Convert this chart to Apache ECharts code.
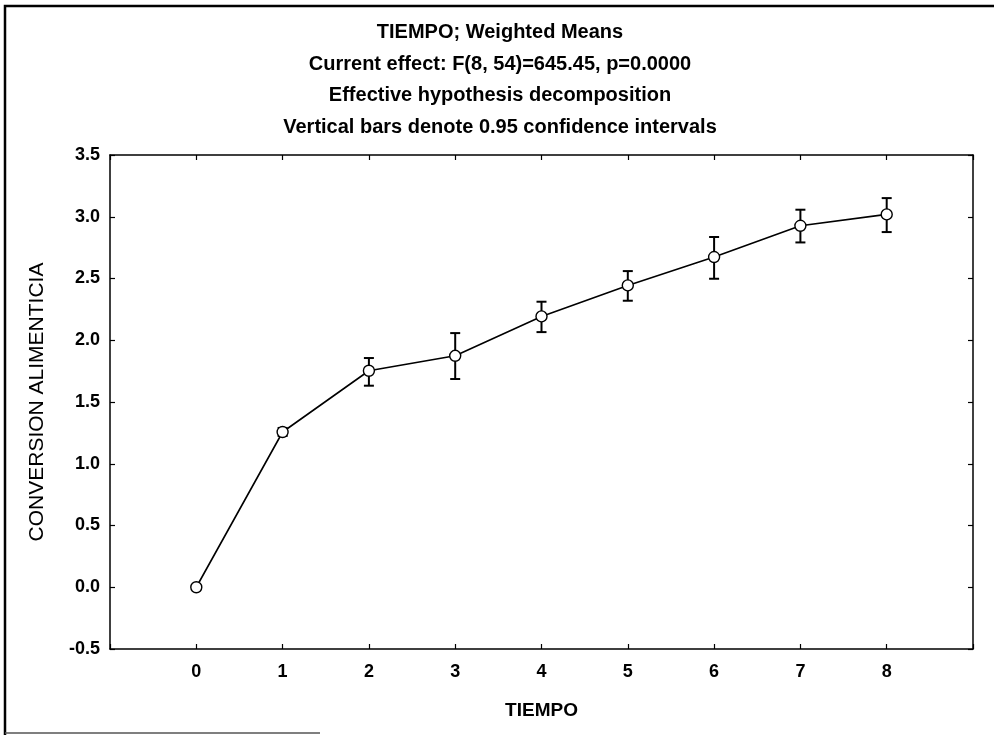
<!DOCTYPE html>
<html>
<head>
<meta charset="utf-8">
<script src="https://cdn.jsdelivr.net/npm/echarts@6/dist/echarts.min.js"></script>
<style>
html,body{margin:0;padding:0;background:#fff;}
#chart{width:994px;height:735px;}
</style>
</head>
<body>
<div id="chart"></div>
<script>
// Data
const tiempo = [0, 1, 2, 3, 4, 5, 6, 7, 8];
const medias = [0.00, 1.257, 1.753, 1.874, 2.193, 2.444, 2.674, 2.927, 3.019];
const icInf  = [0.00, 1.225, 1.632, 1.686, 2.066, 2.320, 2.498, 2.792, 2.876];
const icSup  = [0.00, 1.290, 1.856, 2.058, 2.312, 2.560, 2.836, 3.057, 3.151];
const yTicks = [-0.5, 0.0, 0.5, 1.0, 1.5, 2.0, 2.5, 3.0, 3.5];
const titleLines = [
  'TIEMPO; Weighted Means',
  'Current effect: F(8, 54)=645.45, p=0.0000',
  'Effective hypothesis decomposition',
  'Vertical bars denote 0.95 confidence intervals'
];

const FONT = '"Liberation Sans", Arial, sans-serif';
const chart = echarts.init(document.getElementById('chart'), null, {renderer: 'canvas'});

const lineData = tiempo.map((t, i) => [t, medias[i]]);
const errData = tiempo.map((t, i) => [t, icInf[i], icSup[i]]);

const axisLineStyle = {color: '#000', width: 1.5};
const tickStyle = {show: true, inside: true, length: 5, lineStyle: {color: '#000', width: 1.2}};

chart.setOption({
  backgroundColor: '#fff',
  animation: false,
  title: {
    text: titleLines.join('\n'),
    left: 500,
    top: 17,
    padding: 0,
    textAlign: 'center',
    textStyle: {fontFamily: FONT, fontSize: 20, fontWeight: 'bold', color: '#000', lineHeight: 31.5, align: 'center'}
  },
  grid: {left: 110, right: 21, top: 155, bottom: 86, containLabel: false},
  xAxis: [{
    type: 'value', min: -1, max: 9, interval: 1, position: 'bottom',
    name: 'TIEMPO', nameLocation: 'middle', nameGap: 52,
    nameTextStyle: {fontFamily: FONT, fontSize: 19, fontWeight: 'bold', color: '#000'},
    axisLine: {show: true, onZero: false, lineStyle: axisLineStyle},
    axisTick: tickStyle,
    splitLine: {show: false},
    axisLabel: {
      fontFamily: FONT, fontSize: 18, fontWeight: 'bold', color: '#000', margin: 14,
      formatter: v => (tiempo.indexOf(v) >= 0 ? String(v) : '')
    }
  }, {
    type: 'value', min: -1, max: 9, interval: 1, position: 'top',
    axisLine: {show: true, onZero: false, lineStyle: axisLineStyle},
    axisTick: tickStyle,
    splitLine: {show: false},
    axisLabel: {show: false}
  }],
  yAxis: [{
    type: 'value', min: -0.5, max: 3.5, interval: 0.5, position: 'left',
    name: 'CONVERSION ALIMENTICIA', nameLocation: 'middle', nameGap: 62,
    nameTextStyle: {fontFamily: FONT, fontSize: 21, color: '#000'},
    axisLine: {show: true, onZero: false, lineStyle: axisLineStyle},
    axisTick: tickStyle,
    splitLine: {show: false},
    axisLabel: {
      fontFamily: FONT, fontSize: 18, fontWeight: 'bold', color: '#000', margin: 10,
      formatter: v => v.toFixed(1)
    }
  }, {
    type: 'value', min: -0.5, max: 3.5, interval: 0.5, position: 'right',
    axisLine: {show: true, onZero: false, lineStyle: axisLineStyle},
    axisTick: tickStyle,
    splitLine: {show: false},
    axisLabel: {show: false}
  }],
  series: [{
    type: 'custom',
    name: 'IC 95%',
    xAxisIndex: 0, yAxisIndex: 0,
    data: errData,
    z: 3,
    renderItem: function (params, api) {
      const x = api.value(0);
      const lo = api.coord([x, api.value(1)]);
      const hi = api.coord([x, api.value(2)]);
      const hw = 5;
      const st = {stroke: '#000', lineWidth: 2};
      return {
        type: 'group',
        children: [
          {type: 'line', shape: {x1: lo[0], y1: lo[1], x2: hi[0], y2: hi[1]}, style: st},
          {type: 'line', shape: {x1: hi[0] - hw, y1: hi[1], x2: hi[0] + hw, y2: hi[1]}, style: st},
          {type: 'line', shape: {x1: lo[0] - hw, y1: lo[1], x2: lo[0] + hw, y2: lo[1]}, style: st}
        ]
      };
    }
  }, {
    type: 'line',
    name: 'Media',
    xAxisIndex: 0, yAxisIndex: 0,
    data: lineData,
    z: 5,
    symbol: 'circle',
    symbolSize: 11,
    showAllSymbol: true,
    lineStyle: {color: '#000', width: 1.6},
    itemStyle: {color: '#fff', borderColor: '#000', borderWidth: 1.4}
  }],
  graphic: [{
    type: 'polyline',
    shape: {points: [[5, 735], [5, 6], [994, 6]]},
    style: {stroke: '#000', lineWidth: 2.5, fill: null},
    silent: true
  }, {
    type: 'line',
    shape: {x1: 5, y1: 733, x2: 320, y2: 733},
    style: {stroke: '#555', lineWidth: 1.5},
    silent: true
  }]
});
</script>
</body>
</html>
